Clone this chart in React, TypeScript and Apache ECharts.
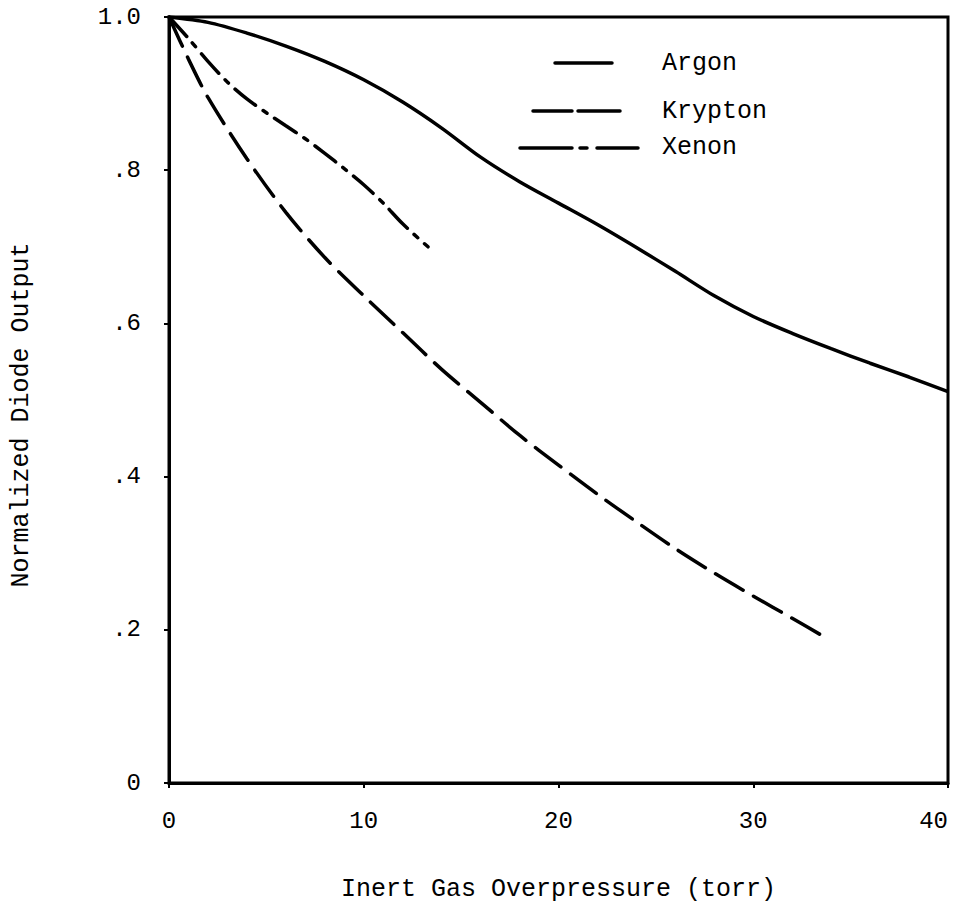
import React, { useEffect, useRef } from "react";
import * as echarts from "echarts";

const argonX = [0, 2, 4, 6, 8, 10, 12, 14, 16, 18, 20, 22, 24, 26, 28, 30, 32, 34, 36, 38, 40];
const argonY = [1.0, 0.993, 0.979, 0.962, 0.942, 0.918, 0.889, 0.855, 0.817, 0.785, 0.757, 0.729, 0.699, 0.668, 0.636, 0.609, 0.587, 0.567, 0.548, 0.53, 0.511];

const kryptonX = [0, 1, 2, 4, 6, 8, 10, 12, 14, 16, 18, 20, 22, 24, 26, 28, 30, 32, 33.7];
const kryptonY = [1.0, 0.945, 0.895, 0.815, 0.745, 0.686, 0.636, 0.588, 0.54, 0.497, 0.454, 0.415, 0.377, 0.341, 0.306, 0.274, 0.244, 0.215, 0.19];

const xenonX = [0, 1, 2, 3, 4, 5, 6, 7, 8, 9, 10, 11, 12, 13.3];
const xenonY = [1.0, 0.972, 0.942, 0.915, 0.893, 0.875, 0.858, 0.841, 0.822, 0.802, 0.781, 0.757, 0.73, 0.7];

const xTicks = [0, 10, 20, 30, 40];
const yTickLabels: Record<string, string> = { "0": "0", "0.2": ".2", "0.4": ".4", "0.6": ".6", "0.8": ".8", "1": "1.0" };

const FONT = "Liberation Mono";

function pairs(xs: number[], ys: number[]) {
  return xs.map((x, i) => [x, ys[i]]);
}

export default function App() {
  const ref = useRef<HTMLDivElement>(null);
  useEffect(() => {
    if (!ref.current) return;
    const chart = echarts.init(ref.current, null, { renderer: "svg" });
    const legendText = (y: number, text: string) => ({
      type: "text",
      x: 662,
      y,
      style: { text, font: `25px "${FONT}"`, fill: "#000", textVerticalAlign: "middle", verticalAlign: "middle" },
    });
    const seg = (x1: number, x2: number, y: number) => ({
      type: "line",
      shape: { x1, y1: y, x2, y2: y },
      style: { stroke: "#000", lineWidth: 3.5, lineCap: "round" },
    });
    chart.setOption({
      animation: false,
      backgroundColor: "#fff",
      grid: {
        left: 169,
        right: 8,
        top: 17,
        bottom: 124,
        containLabel: false,
        outerBoundsMode: "none",
        show: true,
        borderColor: "#000",
        borderWidth: 3,
      },
      xAxis: {
        type: "value",
        min: 0,
        max: 40,
        interval: 10,
        name: "Inert Gas Overpressure (torr)",
        nameLocation: "middle",
        nameGap: 94,
        nameMoveOverlap: false,
        nameTextStyle: { fontFamily: FONT, fontSize: 25, color: "#000" },
        axisLine: { show: true, lineStyle: { color: "#000", width: 3 } },
        axisTick: { show: true, length: 5, lineStyle: { color: "#000", width: 2 } },
        axisLabel: {
          fontFamily: FONT,
          fontSize: 24,
          color: "#000",
          margin: 26,
          alignMaxLabel: "right",
          formatter: (v: number) => (xTicks.includes(v) ? String(v) : ""),
        },
        splitLine: { show: false },
      },
      yAxis: {
        type: "value",
        min: 0,
        max: 1,
        interval: 0.2,
        name: "Normalized Diode Output",
        nameLocation: "middle",
        nameGap: 135,
        nameMoveOverlap: false,
        nameTextStyle: { fontFamily: FONT, fontSize: 25, color: "#000", padding: [0, 30, 0, 0] },
        axisLine: { show: true, lineStyle: { color: "#000", width: 3 } },
        axisTick: { show: true, length: 5, lineStyle: { color: "#000", width: 2 } },
        axisLabel: {
          fontFamily: FONT,
          fontSize: 24,
          color: "#000",
          margin: 28,
          formatter: (v: number) => yTickLabels[String(Math.round(v * 10) / 10)] ?? "",
        },
        splitLine: { show: false },
      },
      series: [
        {
          name: "Argon",
          type: "line",
          data: pairs(argonX, argonY),
          smooth: 0.3,
          showSymbol: false,
          lineStyle: { color: "#000", width: 3.5 },
        },
        {
          name: "Krypton",
          type: "line",
          data: pairs(kryptonX, kryptonY),
          smooth: 0.3,
          showSymbol: false,
          lineStyle: { color: "#000", width: 3.5, type: [32, 12], cap: "round" },
        },
        {
          name: "Xenon",
          type: "line",
          data: pairs(xenonX, xenonY),
          smooth: 0.3,
          showSymbol: false,
          lineStyle: { color: "#000", width: 3.5, type: [26, 9, 5, 9], cap: "round" },
        },
      ],
      graphic: [
        seg(555, 612, 63),
        legendText(63, "Argon"),
        seg(533, 572, 111),
        seg(578, 620, 111),
        legendText(111, "Krypton"),
        seg(520, 572, 148),
        seg(580, 587, 148),
        seg(597, 638, 148),
        legendText(147, "Xenon"),
      ],
    });
    return () => chart.dispose();
  }, []);
  return <div ref={ref} style={{ width: 956, height: 907, position: "absolute", left: 0, top: 0 }} />;
}
